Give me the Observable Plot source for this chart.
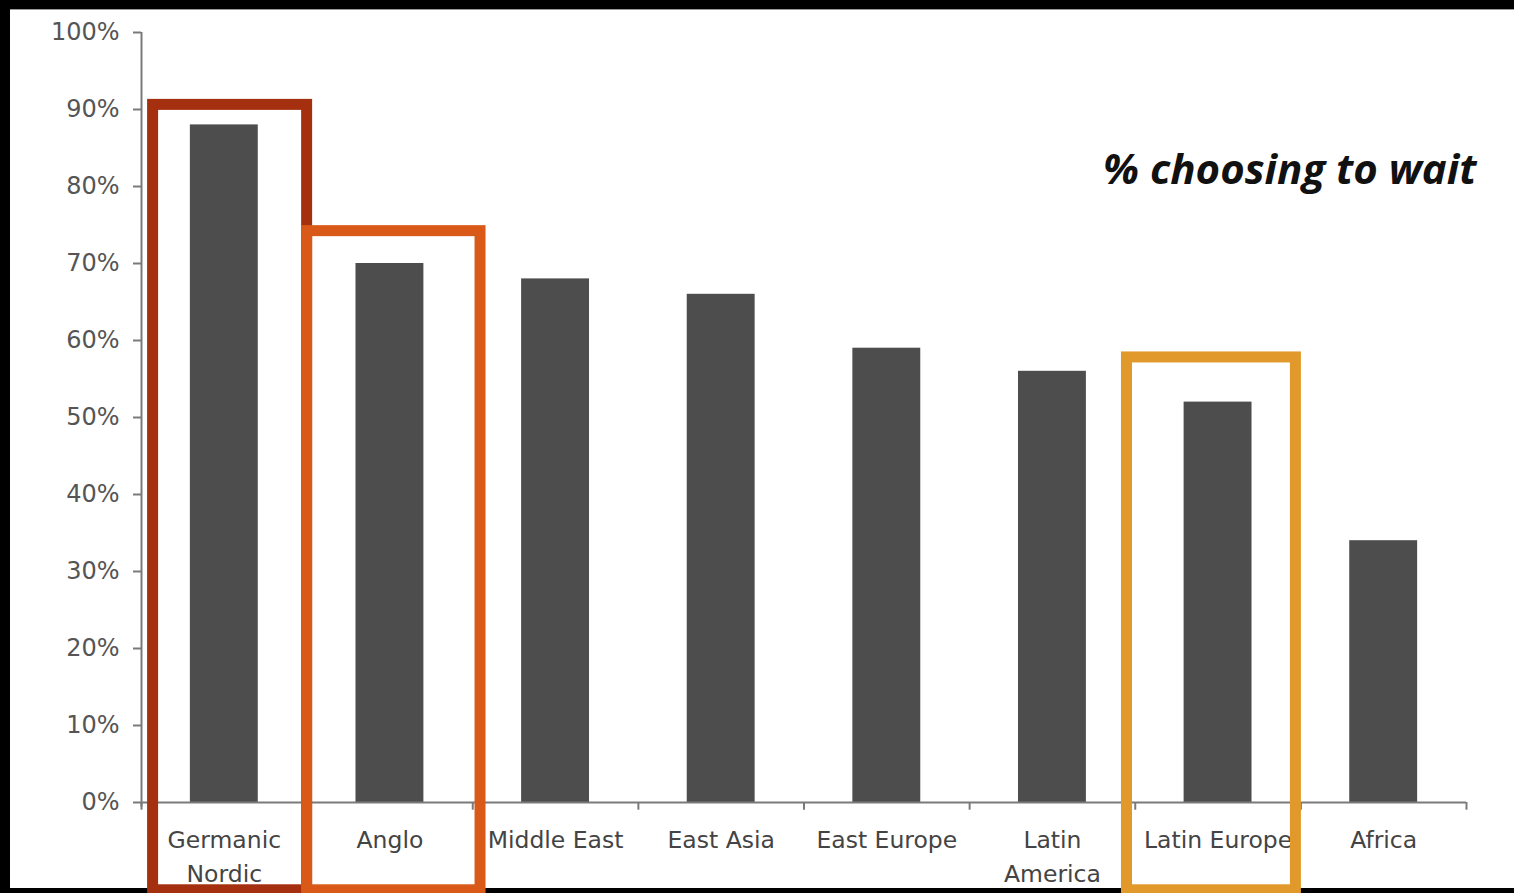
<!DOCTYPE html>
<html>
<head>
<meta charset="utf-8">
<script src="https://cdn.jsdelivr.net/npm/d3@7"></script>
<script src="https://cdn.jsdelivr.net/npm/@observablehq/plot@0.6"></script>
<style>
  html, body { margin: 0; padding: 0; background: #000; width: 1514px; height: 893px; overflow: hidden; }
  #panel { position: absolute; left: 10px; top: 9px; width: 1504px; height: 879px; background: #fff; border-top: 1px solid #999; box-sizing: border-box; }
  #chart { position: absolute; left: 10px; top: 9px; }
  #chart svg { overflow: visible; }
</style>
</head>
<body>
<div id="panel"></div>
<div id="chart"></div>
<script>
const categories = ["Germanic\nNordic", "Anglo", "Middle East", "East Asia", "East Europe", "Latin\nAmerica", "Latin Europe", "Africa"];
const values = [88, 70, 68, 66, 59, 56, 52, 34];
const yTicks = [0, 10, 20, 30, 40, 50, 60, 70, 80, 90, 100];
const highlightCategories = ["Germanic\nNordic", "Anglo", "Latin Europe"];
const highlightTops = [90.6, 74.2, 57.8];
const highlightColors = ["#a5300f", "#d95a18", "#e0992a"];
const annotation = "% choosing to wait";

const data = categories.map((c, i) => ({category: c, i, value: values[i]}));
const boxes = highlightCategories.map((c, k) => ({
  i: categories.indexOf(c), top: highlightTops[k], color: highlightColors[k]
}));
// box horizontal offsets relative to the category slot (in slot units)
const boxPad = [[0.07, 0.0], [0.0, 0.047], [-0.05, -0.03]];
const boundaries = d3.range(categories.length + 1);

const chart = Plot.plot({
  width: 1504,
  height: 879,
  marginLeft: 131,
  marginRight: 48,
  marginTop: 23,
  marginBottom: 86,
  style: {fontFamily: "'DejaVu Sans', Verdana, sans-serif", background: "transparent"},
  x: {type: "linear", domain: [0, categories.length], axis: null},
  y: {type: "linear", domain: [0, 100], axis: null},
  marks: [
    // bars
    Plot.rectY(data, {x1: d => d.i + 0.295, x2: d => d.i + 0.705, y: "value", fill: "#4d4d4d"}),
    // y axis line
    Plot.ruleX([0], {y1: -0.6, y2: 100, stroke: "#7a7a7a", strokeWidth: 2}),
    // y ticks
    Plot.ruleY(yTicks, {x1: 0, x2: 0, y: d => d, stroke: "#7a7a7a", strokeWidth: 2, insetLeft: -8}),
    Plot.text(yTicks, {x: 0, y: d => d, text: d => d + "%", textAnchor: "end", dx: -22, fontSize: 24, fill: "#555"}),
    // x axis line
    Plot.ruleY([0], {x1: 0, x2: categories.length, stroke: "#7a7a7a", strokeWidth: 2}),
    // x boundary ticks
    Plot.ruleX(boundaries, {x: d => d, y1: 0, y2: -1, stroke: "#7a7a7a", strokeWidth: 2}),
    // x labels
    Plot.text(data, {x: d => d.i + 0.5, y: 0, text: "category", lineAnchor: "top", dy: 22, fontSize: 23.5, fill: "#444", lineHeight: 1.42}),
    // highlight boxes
    Plot.rect(boxes, {
      x1: (d, k) => d.i + boxPad[k][0],
      x2: (d, k) => d.i + 1 + boxPad[k][1],
      y1: -11.4,
      y2: "top",
      fill: "none",
      stroke: "color",
      strokeWidth: 11
    }),
    // annotation
    Plot.text([annotation], {
      x: categories.length, y: 80.3, text: d => d, textAnchor: "end", lineAnchor: "bottom", dx: 10,
      fontFamily: "'Open Sans', Lato, sans-serif", fontStyle: "italic", fontWeight: "bold", fontSize: 42, fill: "#111"
    })
  ]
});
document.getElementById("chart").appendChild(chart);
</script>
</body>
</html>
